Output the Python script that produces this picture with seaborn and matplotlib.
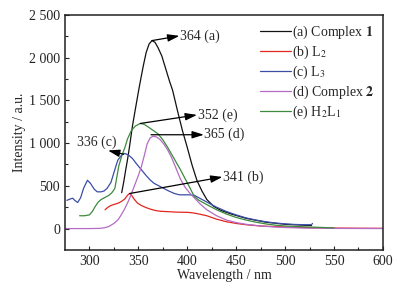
import numpy as np
import pandas as pd
import matplotlib
matplotlib.use("Agg")
import matplotlib.pyplot as plt
import seaborn as sns

# ---- data ----
a_x = [333, 335, 337, 339, 341, 344, 347, 351, 355, 358, 361, 364, 367, 370, 374, 378, 382, 385,
       390, 395, 400, 405, 410, 415, 420, 427, 435, 445, 460, 480, 500, 527]
a_y = [420, 540, 680, 810, 960, 1200, 1400, 1660, 1900, 2060, 2160, 2200, 2180, 2120, 2020, 1870, 1720, 1620,
       1380, 1150, 950, 740, 560, 440, 340, 260, 210, 170, 120, 75, 50, 35]

b_x = [316, 319, 322, 326, 330, 333, 336, 339, 341, 343, 346, 349, 353, 358, 363, 368, 373, 380, 390,
       400, 405, 410, 420, 430, 440, 450, 460, 475, 500, 525, 550, 575, 600]
b_y = [220, 250, 270, 285, 300, 320, 345, 390, 410, 390, 340, 300, 270, 245, 225, 210, 202, 198, 192,
       190, 185, 175, 150, 110, 80, 60, 45, 30, 18, 10, 6, 4, 3]

c_x = [277, 280, 283, 285, 288, 291, 294, 298, 301, 305, 308, 312, 315, 318, 322, 326, 329, 333, 336,
       340, 344, 348, 353, 358, 362, 366, 371, 376, 381, 387, 392, 397, 402, 407, 412, 420, 430, 440,
       450, 460, 470, 480, 490, 500, 510, 520, 527, 528]
c_y = [330, 345, 355, 330, 305, 360, 470, 565, 530, 460, 430, 430, 440, 470, 540, 690, 800, 860, 880,
       860, 820, 760, 690, 620, 570, 530, 500, 470, 440, 410, 395, 395, 395, 390, 360, 310, 250, 200,
       160, 125, 100, 80, 65, 55, 48, 45, 45, 60]

d_x = [275, 290, 300, 310, 315, 320, 325, 329, 332, 336, 339, 342, 346, 350, 353, 356, 359, 362, 365,
       368, 372, 376, 380, 384, 388, 393, 398, 403, 408, 413, 420, 430, 440, 450, 460, 475, 490, 500,
       520, 550, 600]
d_y = [0, 0, 0, 2, 8, 25, 60, 100, 150, 230, 300, 380, 500, 620, 720, 850, 990, 1060, 1080,
       1075, 1045, 990, 920, 830, 720, 580, 480, 410, 350, 290, 220, 150, 100, 70, 50, 30, 18, 12,
       6, 2, 0]

e_x = [290, 295, 300, 303, 306, 309, 312, 316, 320, 323, 326, 328, 330, 333, 336, 339, 343, 347, 352,
       356, 360, 365, 370, 375, 380, 384, 388, 393, 398, 403, 407, 412, 420, 430, 440, 450, 460, 470,
       480, 490, 500, 520, 540, 550]
e_y = [150, 150, 160, 200, 260, 310, 340, 365, 390, 420, 470, 600, 730, 850, 940, 1050, 1150, 1200, 1230,
       1220, 1190, 1150, 1110, 1040, 950, 870, 790, 690, 580, 470, 380, 330, 280, 220, 170, 130, 100, 75,
       55, 40, 30, 20, 12, 8]

labels = ["(a) Complex $\\mathbf{1}$", "(b) L$_2$", "(c) L$_3$", "(d) Complex $\\mathbf{2}$", "(e) H$_2$L$_1$"]
colors = ["#111111", "#e3261e", "#3a4ea8", "#b46cc6", "#3d8a3d"]

# annotations: (start point, arrow tip, text)
ann_start = [(364, 2200), (341, 410), (335, 870), (363, 1098), (352, 1230)]
ann_tip = [(392, 2255), (436, 604), (319, 914), (417, 1098), (410, 1330)]
ann_text = ["364 (a)", "341 (b)", "336 (c)", "365 (d)", "352 (e)"]

xticks = [300, 350, 400, 450, 500, 550, 600]
yticks = [0, 500, 1000, 1500, 2000, 2500]
ytick_labels = ["0", "500", "1 000", "1 500", "2 000", "2 500"]

frames = []
for lab, xs, ys in zip(labels, [a_x, b_x, c_x, d_x, e_x], [a_y, b_y, c_y, d_y, e_y]):
    frames.append(pd.DataFrame({"wl": xs, "I": ys, "series": lab}))
df = pd.concat(frames, ignore_index=True)

sns.set_style("ticks")
plt.rcParams["font.family"] = ["Liberation Serif", "DejaVu Serif"]
plt.rcParams["mathtext.fontset"] = "stix"
plt.rcParams["font.size"] = 10

fig = plt.figure(figsize=(3.96, 2.93), dpi=100)
ax = fig.add_axes([0.164, 0.147, 0.803, 0.802])

sns.lineplot(data=df, x="wl", y="I", hue="series", hue_order=labels, palette=colors,
             sort=False, estimator=None, linewidth=0.9, ax=ax, legend=False)

for (sx, sy), (tx, ty), t in zip(ann_start, ann_tip, ann_text):
    ax.annotate("", xy=(tx, ty), xytext=(sx, sy),
                arrowprops=dict(arrowstyle="-|>,head_length=0.7,head_width=0.22", color="k", lw=0.9,
                                shrinkA=0, shrinkB=0))
    if t == "336 (c)":
        ax.text(308, 1010, t, ha="center", va="center", fontsize=10)
    else:
        ax.text(tx + 0.5, ty, t, ha="left", va="center", fontsize=10)

ax.set_xlim(275, 600)
ax.set_ylim(-250, 2500)
ax.set_xticks(xticks)
ax.set_xticks(np.arange(325, 600, 50), minor=True)
ax.set_yticks(yticks)
ax.set_yticklabels(ytick_labels)
ax.set_yticks(np.arange(250, 2500, 500), minor=True)
ax.tick_params(direction="in", length=3, width=0.8, labelsize=10, colors="#222222")
ax.tick_params(which="minor", direction="in", length=2, width=0.8)
for s in ax.spines.values():
    s.set_linewidth(1.1)
    s.set_color("#222222")
ax.set_xlabel("Wavelength / nm", fontsize=10, labelpad=1)
ax.set_ylabel("Intensity / a.u.", fontsize=10, labelpad=2)

handles = [plt.Line2D([], [], color=c, lw=0.9) for c in colors]
ax.legend(handles, labels, loc="upper right", frameon=False, fontsize=10,
          handlelength=2.2, handletextpad=0.1, labelspacing=0.2,
          borderaxespad=0.2, bbox_to_anchor=(1.0, 1.0))

fig.savefig("out.png", dpi=100)
